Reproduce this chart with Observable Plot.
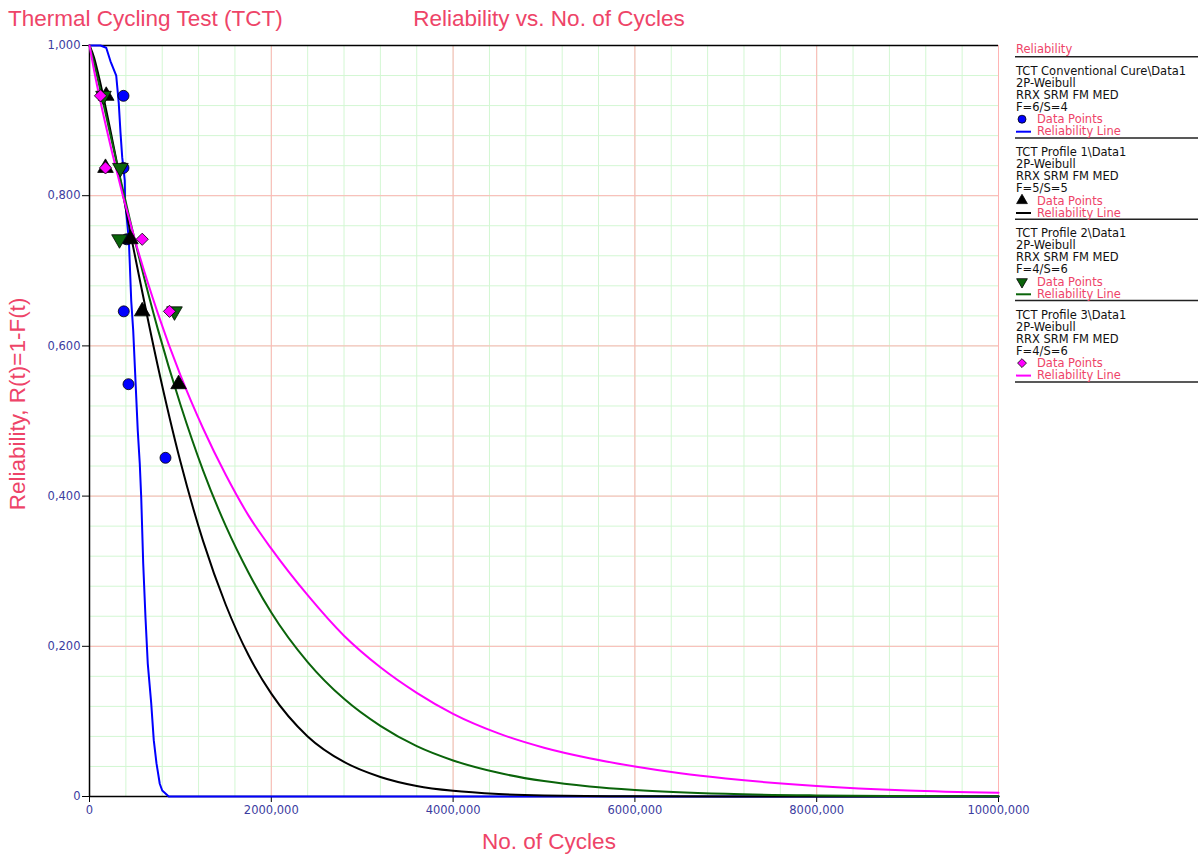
<!DOCTYPE html>
<html>
<head>
<meta charset="utf-8">
<script src="https://cdn.jsdelivr.net/npm/d3@7"></script>
<script src="https://cdn.jsdelivr.net/npm/@observablehq/plot@0.6"></script>
<style>
  body { margin: 0; background: #fff; }
  #wrap { position: relative; width: 1198px; height: 858px; overflow: hidden; }
  #overlay { position: absolute; left: 0; top: 0; pointer-events: none; }
  #chart { position: absolute; left: 0; top: 0; }
</style>
</head>
<body>
<div id="wrap"><div id="chart"></div></div>
<script>
// ---------- data (cycles in thousands, reliability 0..1) ----------
const seriesNames = ["TCT Conventional Cure\\Data1", "TCT Profile 1\\Data1", "TCT Profile 2\\Data1", "TCT Profile 3\\Data1"];
const seriesModel = ["2P-Weibull", "2P-Weibull", "2P-Weibull", "2P-Weibull"];
const seriesMethod = ["RRX SRM FM MED", "RRX SRM FM MED", "RRX SRM FM MED", "RRX SRM FM MED"];
const seriesCounts = ["F=6/S=4", "F=5/S=5", "F=4/S=6", "F=4/S=6"];
const seriesColors = ["#0000ff", "#000000", "#0a640a", "#ff00ff"];

// data points
const convPtsCycles = [374, 374, 410, 377, 429, 836];
const convPtsRel    = [0.933, 0.837, 0.742, 0.646, 0.549, 0.451];
const p1PtsCycles   = [184, 176, 450, 580, 980];
const p1PtsRel      = [0.933, 0.837, 0.742, 0.646, 0.549];
const p2PtsCycles   = [154, 340, 330, 935];
const p2PtsRel      = [0.933, 0.837, 0.742, 0.646];
const p3PtsCycles   = [121, 176, 580, 880];
const p3PtsRel      = [0.933, 0.837, 0.742, 0.646];

// reliability lines
const convLineCycles = [0, 121, 184, 231, 294, 322, 341, 360, 388, 391, 433, 443, 459, 481, 531, 553, 569, 591, 616, 641, 679, 707, 737, 773, 800, 872, 10000];
const convLineRel    = [1, 1, 0.997, 0.979, 0.960, 0.923, 0.884, 0.851, 0.820, 0.794, 0.741, 0.710, 0.660, 0.620, 0.487, 0.443, 0.398, 0.310, 0.238, 0.177, 0.124, 0.075, 0.044, 0.017, 0.008, 0, 0];
const p1LineCycles = [0, 50, 100, 250, 500, 750, 1000, 1250, 1500, 1750, 2000, 2400, 2800, 3200, 3600, 4000, 4500, 5000, 6000, 7000, 10000];
const p1LineRel    = [1, 0.984, 0.960, 0.875, 0.720, 0.574, 0.446, 0.340, 0.255, 0.188, 0.137, 0.080, 0.046, 0.026, 0.014, 0.0075, 0.0033, 0.0014, 0.0002, 0.00003, 0];
const p2LineCycles = [0, 50, 100, 250, 500, 750, 1000, 1250, 1500, 1750, 2000, 2400, 2800, 3200, 3600, 4000, 4500, 5000, 5500, 6000, 7000, 8000, 9000, 10000];
const p2LineRel    = [1, 0.977, 0.951, 0.870, 0.740, 0.623, 0.522, 0.434, 0.360, 0.298, 0.245, 0.179, 0.130, 0.094, 0.067, 0.048, 0.0315, 0.0205, 0.0133, 0.0086, 0.0035, 0.0014, 0.0006, 0.0002];
const p3LineCycles = [0, 50, 100, 250, 500, 750, 1000, 1250, 1500, 1750, 2000, 2400, 2800, 3200, 3600, 4000, 4500, 5000, 5500, 6000, 6500, 7000, 8000, 9000, 10000];
const p3LineRel    = [1, 0.967, 0.937, 0.857, 0.741, 0.644, 0.561, 0.490, 0.428, 0.374, 0.330, 0.268, 0.214, 0.172, 0.138, 0.110, 0.084, 0.065, 0.051, 0.040, 0.031, 0.024, 0.014, 0.008, 0.005];

// axes
const xTicks = [0, 2000, 4000, 6000, 8000, 10000];
const yTicks = [0, 0.2, 0.4, 0.6, 0.8, 1.0];
const xMinorStep = 400;
const yMinorStep = 0.04;

// ---------- build tables ----------
const zip = (xs, ys, s) => xs.map((x, i) => ({x, y: ys[i], s}));
const lines = [
  zip(convLineCycles, convLineRel, 0),
  zip(p1LineCycles, p1LineRel, 1),
  zip(p2LineCycles, p2LineRel, 2),
  zip(p3LineCycles, p3LineRel, 3)
];
const lineCurves = ["linear", "monotone-x", "monotone-x", "monotone-x"];
const pts = [
  zip(convPtsCycles, convPtsRel, 0),
  zip(p1PtsCycles, p1PtsRel, 1),
  zip(p2PtsCycles, p2PtsRel, 2),
  zip(p3PtsCycles, p3PtsRel, 3)
];

const triangleDown = {
  draw(context, size) {
    const a = Math.sqrt(4 * size / Math.sqrt(3));
    const h = Math.sqrt(3) / 2 * a;
    context.moveTo(-a / 2, -h / 3);
    context.lineTo(a / 2, -h / 3);
    context.lineTo(0, 2 * h / 3);
    context.closePath();
  }
};
const symbols = ["circle", "triangle", triangleDown, "diamond2"];
const radii = [5.5, 5.8, 5.8, 5.5];

const xMinor = d3.range(xMinorStep, 10000 + 1, xMinorStep);
const yMinor = d3.range(1, 26).map(i => +(i * yMinorStep).toFixed(2));

const fmtX = d => d === 0 ? "0" : `${d},000`;
const fmtY = d => d === 0 ? "0" : d3.format(".3f")(d).replace(".", ",");

const tickColor = "#3c3ca0";
const gridRed = "#ffb4b4";
const gridGreen = "#d3f7d3";

const chart = Plot.plot({
  width: 1198,
  height: 858,
  marginLeft: 89,
  marginRight: 200,
  marginTop: 45,
  marginBottom: 62,
  x: {domain: [0, 10000]},
  y: {domain: [0, 1]},
  style: {fontFamily: "'DejaVu Sans', sans-serif", fontSize: "11.5px", background: "white", color: tickColor},
  marks: [
    Plot.ruleX(xMinor, {stroke: gridGreen, strokeWidth: 1}),
    Plot.ruleY(yMinor, {stroke: gridGreen, strokeWidth: 1}),
    Plot.ruleX(xTicks.slice(1), {stroke: gridRed, strokeWidth: 1}),
    Plot.ruleY(yTicks.slice(1, 5), {stroke: gridRed, strokeWidth: 1}),
    Plot.ruleY([1], {stroke: "#000", strokeWidth: 1.5}),
    Plot.ruleX([0], {stroke: "#000", strokeWidth: 1.5}),
    Plot.ruleY([0], {stroke: "#000", strokeWidth: 1.5}),
    Plot.axisX(xTicks, {tickSize: 6, tickPadding: 3, tickFormat: fmtX, stroke: "#000", fill: tickColor, label: null}),
    Plot.axisY(yTicks, {tickSize: 7, tickPadding: 2, tickFormat: fmtY, stroke: "#000", fill: tickColor, label: null}),
    ...lines.map((L, i) => Plot.line(L, {x: "x", y: "y", stroke: seriesColors[i], strokeWidth: 2, curve: lineCurves[i]})),
    ...pts.map((P, i) => Plot.dot(P, {x: "x", y: "y", symbol: () => symbols[i], r: radii[i], fill: seriesColors[i], stroke: "#000", strokeWidth: 0.8}))
  ]
});
document.getElementById("chart").appendChild(chart);

// ---------- titles, axis labels, legend ----------
const ov = d3.select("#wrap").append("svg").attr("id", "overlay").attr("width", 1198).attr("height", 858);
const pink = "#ee4468";
const titleFont = "'Liberation Sans', Arial, sans-serif";
ov.append("text").attr("x", 8).attr("y", 26).attr("font-family", titleFont).attr("font-size", 22.5).attr("fill", pink).text("Thermal Cycling Test (TCT)");
ov.append("text").attr("x", 549).attr("y", 26).attr("text-anchor", "middle").attr("font-family", titleFont).attr("font-size", 22.5).attr("fill", pink).text("Reliability vs. No. of Cycles");
ov.append("text").attr("x", 549).attr("y", 849).attr("text-anchor", "middle").attr("font-family", titleFont).attr("font-size", 22.5).attr("fill", pink).text("No. of Cycles");
ov.append("text").attr("transform", "translate(25,404) rotate(-90)").attr("text-anchor", "middle").attr("font-family", titleFont).attr("font-size", 22.5).attr("fill", pink).text("Reliability, R(t)=1-F(t)");

const lg = ov.append("g").attr("font-family", "'DejaVu Sans', sans-serif").attr("font-size", 11.5);
lg.append("text").attr("x", 1016).attr("y", 53).attr("fill", pink).text("Reliability");
const sep0 = 56.7, blockH = 81.3;
const sepYs = [0, 1, 2, 3, 4].map(k => sep0 + blockH * k);
sepYs.forEach(y => lg.append("line").attr("x1", 1015).attr("x2", 1198).attr("y1", y).attr("y2", y).attr("stroke", "#222").attr("stroke-width", 1.5));
seriesNames.forEach((name, k) => {
  const s = sepYs[k];
  [name, seriesModel[k], seriesMethod[k], seriesCounts[k]].forEach((t, j) => {
    lg.append("text").attr("x", 1016).attr("y", s + 18 + 12 * j).attr("fill", "#111").text(t);
  });
  const symType = typeof symbols[k] === "string"
    ? {circle: d3.symbolCircle, triangle: d3.symbolTriangle, diamond2: d3.symbolDiamond2}[symbols[k]]
    : symbols[k];
  lg.append("path")
    .attr("transform", `translate(1022,${s + 62.5})`)
    .attr("d", d3.symbol(symType, Math.PI * 4 * 4)())
    .attr("fill", seriesColors[k]).attr("stroke", "#000").attr("stroke-width", 0.8);
  lg.append("text").attr("x", 1037).attr("y", s + 66.5).attr("fill", pink).text("Data Points");
  lg.append("line").attr("x1", 1016).attr("x2", 1031).attr("y1", s + 75).attr("y2", s + 75).attr("stroke", seriesColors[k]).attr("stroke-width", 2);
  lg.append("text").attr("x", 1037).attr("y", s + 78.5).attr("fill", pink).text("Reliability Line");
});
</script>
</body>
</html>
